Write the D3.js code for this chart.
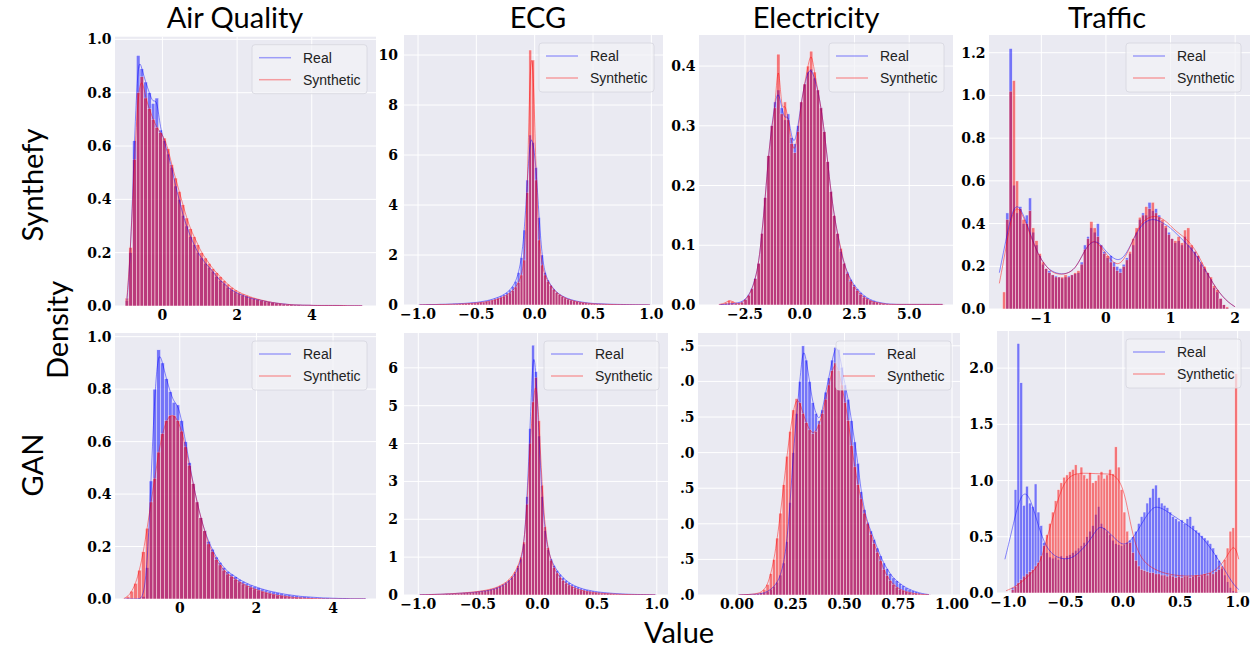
<!DOCTYPE html>
<html>
<head>
<meta charset="utf-8">
<script src="https://cdn.jsdelivr.net/npm/d3@7"></script>
<style>
  body { margin: 0; background: #fff; }
  svg { display: block; }
</style>
</head>
<body>
<svg id="chart" width="1260" height="651"></svg>
<script>
// ---- data: histogram densities, one value per bin (bins start at *Start, width *Width) ----

const datasets = ['Air Quality', 'ECG', 'Electricity', 'Traffic'];
const models = ['Synthefy', 'GAN'];
const seriesNames = ['Real', 'Synthetic'];

// Air Quality / Synthefy
const aqSynthefyStart = -1.0, aqSynthefyWidth = 0.1;
const aqSynthefyReal = [0.02,0.2,0.62,0.94,0.89,0.84,0.80,0.76,0.78,0.66,
  0.62,0.57,0.52,0.45,0.40,0.34,0.30,0.26,0.23,0.20,
  0.18,0.16,0.145,0.13,0.11,0.095,0.085,0.07,0.06,0.052,
  0.045,0.04,0.035,0.03,0.027,0.024,0.021,0.018,0.015,0.013,
  0.011,0.009,0.008,0.006,0.005,0.004,0.004,0.003,0.003,0.003,
  0.002,0.002,0.002,0.002,0.002,0.002,0.002,0.002,0.001,0.001,
  0.001,0.001,0.001,0.001];
const aqSynthefySynth = [0.03,0.22,0.55,0.80,0.86,0.78,0.74,0.70,0.67,0.65,
  0.63,0.59,0.53,0.48,0.43,0.38,0.33,0.29,0.26,0.23,
  0.20,0.18,0.16,0.14,0.125,0.11,0.095,0.082,0.07,0.06,
  0.052,0.045,0.04,0.034,0.03,0.026,0.022,0.019,0.016,0.013,
  0.011,0.009,0.007,0.006,0.005,0.004,0.004,0.003,0.003,0.003,
  0.002,0.002,0.002,0.002,0.002,0.002,0.002,0.002,0.002,0.001,
  0.001,0.001,0.001,0.001];

// ECG / Synthefy
const ecgSynthefyStart = -1.0, ecgSynthefyWidth = 0.025;
const ecgSynthefyReal = [0.01,0.01,0.01,0.02,0.02,0.02,0.02,0.03,0.03,0.03,
  0.04,0.04,0.05,0.05,0.06,0.06,0.07,0.08,0.09,0.10,
  0.11,0.13,0.15,0.17,0.20,0.23,0.27,0.31,
  0.36,0.42,0.50,0.60, 0.75,0.95,1.3,1.9, 3.0,5.0,6.8,6.5,
  5.5,3.5,2.0,1.3, 1.0,0.8,0.65,0.52, 0.43,0.36,0.30,0.25,
  0.21,0.18,0.15,0.13,0.11,0.095,0.08,0.07,
  0.06,0.055,0.05,0.045,0.04,0.035,0.03,0.028,0.025,0.022,
  0.02,0.018,0.016,0.014,0.012,0.01,0.01,0.008,0.006,0.005];
const ecgSynthefySynth = [0.005,0.005,0.01,0.01,0.01,0.01,0.015,0.02,0.02,0.02,
  0.025,0.03,0.03,0.035,0.04,0.045,0.05,0.06,0.065,0.075,
  0.085,0.10,0.11,0.13,0.15,0.18,0.21,0.25,
  0.29,0.34,0.40,0.48, 0.58,0.72,0.9,1.2, 1.8,4.5,10.2,9.8,
  5.0,2.6,1.6,1.2, 0.95,0.78,0.62,0.5, 0.41,0.34,0.28,0.23,
  0.19,0.16,0.13,0.11,0.09,0.08,0.065,0.055,
  0.045,0.04,0.035,0.03,0.026,0.022,0.019,0.016,0.014,0.012,
  0.01,0.009,0.008,0.007,0.006,0.005,0.004,0.004,0.003,0.003];

// Electricity / Synthefy
const elecSynthefyStart = -3.75, elecSynthefyWidth = 0.15;
const elecSynthefyReal = [0.0005,0.001,0.001,0.002,0.002,0.003,0.004,0.006,0.01,0.017,
  0.028,0.045,0.07,0.12,0.18,0.25,0.30,0.34,0.36,0.33,
  0.31,0.32,0.28,0.27,0.30,0.34,0.37,0.39,0.395,0.38,
  0.36,0.33,0.29,0.24,0.19,0.15,0.12,0.09,0.07,0.055,
  0.043,0.034,0.027,0.021,0.016,0.012,0.009,0.007,0.005,0.004,
  0.003,0.002,0.0015,0.0015,0.001,0.001,0.001,0.001,0.001,0.001,
  0.001,0.001,0.001,0.001,0.001,0.001,0.001,0.001,0.001];
const elecSynthefySynth = [0.001,0.002,0.004,0.008,0.006,0.003,0.002,0.004,0.009,0.016,
  0.027,0.044,0.07,0.12,0.18,0.25,0.30,0.33,0.42,0.32,
  0.34,0.31,0.27,0.255,0.29,0.34,0.37,0.40,0.425,0.39,
  0.36,0.33,0.29,0.24,0.19,0.15,0.12,0.095,0.07,0.053,
  0.04,0.031,0.024,0.018,0.013,0.01,0.007,0.005,0.004,0.003,
  0.002,0.0015,0.001,0.001,0.001,0.001,0.001,0.001,0.001,0.001,
  0.001,0.001,0.001,0.001,0.001,0.001,0.001,0.001,0.001];

// Traffic / Synthefy
const trafficSynthefyStart = -1.6, trafficSynthefyWidth = 0.05;
const trafficSynthefyReal = [0.0,0.45,1.22,0.58,0.45,0.48,0.40,0.44,0.52,0.36,
  0.30,0.25,0.21,0.19,0.18,0.16,0.155,0.15,0.145,0.15,
  0.155,0.16,0.165,0.17,0.22,0.30,0.34,0.38,0.36,0.40,
  0.30,0.27,0.24,0.25,0.22,0.20,0.19,0.21,0.24,0.26,
  0.30,0.36,0.42,0.45,0.44,0.50,0.46,0.47,0.44,0.40,
  0.38,0.36,0.33,0.31,0.32,0.30,0.34,0.30,0.29,0.27,
  0.25,0.21,0.19,0.17,0.14,0.10,0.08,0.05,0.02,0.005];
const trafficSynthefySynth = [0.08,0.42,1.02,1.07,0.60,0.47,0.42,0.40,0.46,0.38,
  0.32,0.26,0.22,0.19,0.17,0.16,0.15,0.15,0.15,0.16,
  0.15,0.16,0.17,0.18,0.21,0.28,0.33,0.41,0.38,0.34,
  0.30,0.26,0.25,0.22,0.20,0.18,0.17,0.20,0.23,0.27,
  0.33,0.38,0.43,0.44,0.48,0.47,0.50,0.45,0.43,0.42,
  0.39,0.35,0.33,0.32,0.34,0.31,0.37,0.38,0.30,0.27,
  0.25,0.22,0.20,0.17,0.15,0.11,0.09,0.05,0.02,0.01];
const trafficSynthefyKdeReal = [[-1.65,0.17],[-1.55,0.32],[-1.46,0.45],[-1.38,0.49],[-1.3,0.46],[-1.2,0.38],[-1.1,0.29],[-1.0,0.23],[-0.9,0.19],[-0.8,0.17],[-0.65,0.16],[-0.5,0.18],[-0.4,0.23],[-0.3,0.29],[-0.2,0.32],[-0.1,0.31],[0.0,0.27],[0.1,0.24],[0.2,0.225],[0.3,0.25],[0.4,0.31],[0.5,0.37],[0.6,0.41],[0.75,0.425],[0.9,0.40],[1.0,0.38],[1.1,0.35],[1.2,0.32],[1.3,0.29],[1.4,0.25],[1.5,0.2],[1.6,0.15],[1.7,0.1],[1.8,0.06],[1.9,0.03],[2.0,0.01]];
const trafficSynthefyKdeSynth = [[-1.65,0.12],[-1.55,0.28],[-1.46,0.44],[-1.38,0.48],[-1.3,0.45],[-1.2,0.37],[-1.1,0.29],[-1.0,0.23],[-0.9,0.19],[-0.8,0.165],[-0.65,0.16],[-0.5,0.18],[-0.4,0.23],[-0.3,0.29],[-0.2,0.325],[-0.1,0.30],[0.0,0.26],[0.1,0.22],[0.2,0.205],[0.3,0.24],[0.4,0.31],[0.5,0.38],[0.6,0.42],[0.75,0.44],[0.9,0.42],[1.0,0.39],[1.1,0.36],[1.2,0.34],[1.3,0.31],[1.4,0.27],[1.5,0.21],[1.6,0.15],[1.7,0.1],[1.8,0.06],[1.9,0.03],[2.0,0.01]];

// Air Quality / GAN
const aqGanStart = -1.5, aqGanWidth = 0.1;
const aqGanReal = [0,0,0,0,0,0.01,0.12,0.45,0.80,0.95,
  0.90,0.84,0.79,0.75,0.74,0.68,0.60,0.52,0.44,0.37,
  0.31,0.26,0.22,0.19,0.16,0.14,0.12,0.105,0.095,0.085,
  0.075,0.067,0.06,0.053,0.048,0.043,0.038,0.034,0.03,0.027,
  0.024,0.021,0.018,0.016,0.014,0.012,0.01,0.009,0.008,0.007,
  0.006,0.005,0.004,0.004,0.003,0.003,0.002,0.002,0.002,0.001,
  0.001,0.001,0.001,0.001];
const aqGanSynth = [0.003,0.01,0.03,0.06,0.11,0.18,0.27,0.37,0.46,0.56,
  0.63,0.68,0.70,0.70,0.68,0.64,0.58,0.51,0.44,0.37,
  0.31,0.26,0.21,0.18,0.15,0.13,0.11,0.095,0.085,0.075,
  0.065,0.057,0.05,0.044,0.038,0.033,0.028,0.024,0.02,0.017,
  0.014,0.012,0.01,0.008,0.006,0.005,0.004,0.003,0.002,0.002,
  0.001,0.001,0,0,0,0,0,0,0,0,
  0,0,0,0];

// ECG / GAN
const ecgGanStart = -1.0, ecgGanWidth = 0.025;
const ecgGanReal = [0.01,0.01,0.01,0.01,0.015,0.015,0.02,0.02,0.025,0.03,
  0.03,0.035,0.04,0.045,0.05,0.055,0.06,0.065,0.07,0.08,
  0.09,0.10,0.11,0.12,0.14,0.16,0.19,0.22,
  0.26,0.31,0.37,0.45, 0.56,0.72,0.95,1.35, 2.6,4.4,6.6,5.9,
  4.2,2.6,1.7,1.2, 0.95,0.78,0.65,0.55, 0.46,0.39,0.33,0.28,
  0.24,0.21,0.18,0.155,0.135,0.12,0.105,0.09,
  0.08,0.07,0.062,0.055,0.048,0.042,0.037,0.032,0.028,0.024,
  0.021,0.018,0.016,0.014,0.012,0.01,0.009,0.008,0.007,0.006];
const ecgGanSynth = [0.005,0.005,0.008,0.01,0.012,0.015,0.018,0.02,0.025,0.03,
  0.033,0.037,0.042,0.047,0.052,0.058,0.065,0.072,0.08,0.09,
  0.10,0.11,0.125,0.14,0.16,0.18,0.21,0.25,
  0.29,0.34,0.41,0.50, 0.62,0.78,1.0,1.4, 2.4,4.0,5.1,5.75,
  4.6,2.9,1.8,1.25, 0.92,0.72,0.58,0.47, 0.38,0.31,0.26,0.22,
  0.18,0.15,0.13,0.11,0.09,0.08,0.07,0.06,
  0.05,0.045,0.04,0.035,0.03,0.026,0.022,0.019,0.016,0.014,
  0.012,0.01,0.009,0.008,0.007,0.006,0.005,0.004,0.004,0.003];

// Electricity / GAN
const elecGanStart = 0.0, elecGanWidth = 0.015;
const elecGanReal = [0.0,0.003,0.005,0.007,0.01,0.012,0.015,0.02,0.03,0.05,
  0.08,0.12,0.18,0.28,0.45,0.75,1.3,2.0,2.55,3.0,
  3.5,3.3,3.0,2.7,2.55,2.45,2.6,2.85,3.05,3.3,
  3.48,3.45,3.2,2.95,2.75,2.45,2.15,1.85,1.45,1.2,
  1.02,0.9,0.78,0.66,0.55,0.45,0.37,0.3,0.24,0.2,
  0.16,0.13,0.1,0.08,0.06,0.045,0.03,0.02,0.012,0.006];
const elecGanSynth = [0.0,0.003,0.005,0.007,0.01,0.015,0.025,0.04,0.08,0.15,
  0.3,0.5,0.8,1.15,1.55,1.95,2.3,2.6,2.76,2.7,
  2.55,2.42,2.32,2.27,2.3,2.4,2.55,2.75,2.95,3.15,
  3.26,3.15,2.95,2.7,2.45,2.1,1.8,1.55,1.35,1.15,
  1.0,0.85,0.72,0.6,0.48,0.36,0.27,0.2,0.15,0.11,
  0.08,0.06,0.045,0.035,0.025,0.018,0.012,0.008,0.005,0.003];

// Traffic / GAN
const trafficGanStart = -1.0, trafficGanWidth = 0.025;
const trafficGanReal = [0.0,0.05,0.92,2.22,1.87,0.78,0.95,0.80,0.77,0.97,
  0.72,0.6,0.45,0.36,0.32,0.31,0.32,0.30,0.33,0.31,
  0.33,0.34,0.36,0.38,0.40,0.42,0.45,0.50,0.55,0.60,
  0.70,0.77,0.62,0.58,0.55,0.52,0.47,0.44,0.43,0.42,
  0.43,0.45,0.47,0.50,0.55,0.62,0.68,0.72,0.80,0.85,
  0.93,0.96,0.85,0.80,0.78,0.76,0.72,0.68,0.66,0.64,
  0.65,0.62,0.66,0.68,0.60,0.56,0.54,0.51,0.49,0.47,
  0.44,0.40,0.34,0.29,0.22,0.16,0.10,0.05,0.02,0.01];
const trafficGanSynth = [0.0,0.03,0.06,0.09,0.12,0.15,0.17,0.19,0.21,0.24,
  0.27,0.33,0.42,0.52,0.62,0.72,0.82,0.92,0.98,1.03,
  1.05,1.08,1.10,1.14,1.06,1.12,1.05,1.02,1.07,0.98,
  1.0,1.05,1.08,1.02,1.05,1.1,1.06,1.30,1.12,0.92,
  0.72,0.55,0.45,0.36,0.29,0.24,0.21,0.2,0.19,0.18,
  0.18,0.17,0.17,0.16,0.16,0.15,0.16,0.15,0.14,0.15,
  0.14,0.15,0.15,0.14,0.15,0.16,0.15,0.16,0.17,0.16,
  0.18,0.17,0.19,0.21,0.24,0.30,0.40,0.55,0.58,1.95];
const trafficGanKdeReal = [[-1.03,0.3],[-0.97,0.55],[-0.91,0.82],[-0.855,0.91],[-0.8,0.82],[-0.74,0.6],[-0.67,0.4],[-0.59,0.32],[-0.51,0.3],[-0.45,0.31],[-0.39,0.35],[-0.3,0.45],[-0.24,0.55],[-0.2,0.6],[-0.13,0.55],[-0.04,0.45],[0.02,0.42],[0.1,0.5],[0.18,0.65],[0.25,0.75],[0.29,0.77],[0.35,0.75],[0.42,0.7],[0.54,0.62],[0.62,0.56],[0.69,0.5],[0.8,0.35],[0.89,0.2],[0.96,0.08],[1.01,0.03]];
const trafficGanKdeSynth = [[-1.02,0.02],[-0.95,0.05],[-0.88,0.1],[-0.77,0.2],[-0.71,0.3],[-0.66,0.5],[-0.59,0.75],[-0.53,0.95],[-0.46,1.05],[-0.36,1.07],[-0.24,1.06],[-0.13,1.06],[-0.07,1.05],[0.0,0.95],[0.05,0.7],[0.1,0.45],[0.16,0.3],[0.25,0.22],[0.37,0.17],[0.51,0.15],[0.63,0.15],[0.77,0.17],[0.86,0.25],[0.92,0.35],[0.96,0.42],[0.99,0.38],[1.01,0.3]];

// tick values per panel
const aqXTicks = [0, 2, 4];
const ecgXTicks = [-1, -0.5, 0, 0.5, 1];
const elecSynthefyXTicks = [-2.5, 0, 2.5, 5];
const trafficSynthefyXTicks = [-1, 0, 1, 2];
const elecGanXTicks = [0, 0.25, 0.5, 0.75, 1];
const trafficGanXTicks = [-1, -0.5, 0, 0.5, 1];
const aqYTicks = [0, 0.2, 0.4, 0.6, 0.8, 1.0];
const ecgSynthefyYTicks = [0, 2, 4, 6, 8, 10];
const elecSynthefyYTicks = [0, 0.1, 0.2, 0.3, 0.4];
const trafficSynthefyYTicks = [0, 0.2, 0.4, 0.6, 0.8, 1.0, 1.2];
const ecgGanYTicks = [0, 1, 2, 3, 4, 5, 6];
const elecGanYTicks = [0, 0.5, 1, 1.5, 2, 2.5, 3, 3.5];
const trafficGanYTicks = [0, 0.5, 1, 1.5, 2];

// ---- layout ----
const f1 = d3.format('.1f'), f2 = d3.format('.2f'), fd = d3.format('d');
const panels = [
  { real: aqSynthefyReal, synth: aqSynthefySynth, start: aqSynthefyStart, w: aqSynthefyWidth,
    box: [115, 36.7, 376, 306], xd: [-1.27, 5.72], ymax: 1.01, xt: aqXTicks, yt: aqYTicks, xf: fd, yf: f1 },
  { real: ecgSynthefyReal, synth: ecgSynthefySynth, start: ecgSynthefyStart, w: ecgSynthefyWidth,
    box: [404, 35, 663, 305], xd: [-1.12, 1.1], ymax: 10.8, xt: ecgXTicks, yt: ecgSynthefyYTicks, xf: f1, yf: fd, ygap: 6 },
  { real: elecSynthefyReal, synth: elecSynthefySynth, start: elecSynthefyStart, w: elecSynthefyWidth,
    box: [699, 35, 953, 305], xd: [-4.6, 7.0], ymax: 0.452, xt: elecSynthefyXTicks, yt: elecSynthefyYTicks, xf: f1, yf: f1 },
  { real: trafficSynthefyReal, synth: trafficSynthefySynth, start: trafficSynthefyStart, w: trafficSynthefyWidth,
    kdeReal: trafficSynthefyKdeReal, kdeSynth: trafficSynthefyKdeSynth,
    box: [989, 35, 1250, 309], xd: [-1.81, 2.23], ymax: 1.283, xt: trafficSynthefyXTicks, yt: trafficSynthefyYTicks, xf: fd, yf: f1 },
  { real: aqGanReal, synth: aqGanSynth, start: aqGanStart, w: aqGanWidth,
    box: [115, 333, 376, 599], xd: [-1.69, 5.12], ymax: 1.014, xt: aqXTicks, yt: aqYTicks, xf: fd, yf: f1 },
  { real: ecgGanReal, synth: ecgGanSynth, start: ecgGanStart, w: ecgGanWidth,
    box: [404, 333, 668, 595], xd: [-1.12, 1.094], ymax: 6.92, xt: ecgXTicks, yt: ecgGanYTicks, xf: f1, yf: fd, ygap: 6 },
  { real: elecGanReal, synth: elecGanSynth, start: elecGanStart, w: elecGanWidth,
    box: [698, 333, 960, 595], xd: [-0.181, 1.037], ymax: 3.68, xt: elecGanXTicks, yt: elecGanYTicks, xf: f2,
    yf: d => f1(d).slice(1) },
  { real: trafficGanReal, synth: trafficGanSynth, start: trafficGanStart, w: trafficGanWidth,
    kdeReal: trafficGanKdeReal, kdeSynth: trafficGanKdeSynth,
    box: [997, 331, 1250, 593], xd: [-1.099, 1.108], ymax: 2.33, xt: trafficGanXTicks, yt: trafficGanYTicks, xf: f1, yf: f1 }
];

const BG = '#EAEAF2';
const BLUE = '#0000ff', RED = '#ff0000';
const tickFont = "'DejaVu Serif', serif";
const labelFont = "Lato, 'Open Sans', sans-serif";
const legendFont = "'Liberation Sans', Arial, sans-serif";

const svg = d3.select('#chart');

panels.forEach((p, idx) => {
  const [l, t, r, b] = p.box;
  const x = d3.scaleLinear().domain(p.xd).range([l, r]);
  const y = d3.scaleLinear().domain([0, p.ymax]).range([b, t]);
  const g = svg.append('g').attr('class', 'panel');

  const clipId = 'clip' + idx;
  g.append('clipPath').attr('id', clipId)
    .append('rect').attr('x', l).attr('y', t).attr('width', r - l).attr('height', b - t);

  g.append('rect').attr('x', l).attr('y', t).attr('width', r - l).attr('height', b - t).attr('fill', BG);

  // grid
  g.append('g').selectAll('line').data(p.xt).join('line')
    .attr('x1', d => x(d)).attr('x2', d => x(d)).attr('y1', t).attr('y2', b)
    .attr('stroke', '#fff').attr('stroke-width', 1);
  g.append('g').selectAll('line').data(p.yt).join('line')
    .attr('x1', l).attr('x2', r).attr('y1', d => y(d)).attr('y2', d => y(d))
    .attr('stroke', '#fff').attr('stroke-width', 1);

  const plot = g.append('g').attr('clip-path', `url(#${clipId})`);

  // histograms: real first, synthetic on top
  [[p.real, BLUE], [p.synth, RED]].forEach(([vals, col]) => {
    plot.append('g').selectAll('rect').data(vals).join('rect')
      .attr('x', (d, i) => x(p.start + i * p.w))
      .attr('width', (d, i) => x(p.start + (i + 1) * p.w) - x(p.start + i * p.w))
      .attr('y', d => y(d))
      .attr('height', d => y(0) - y(d))
      .attr('fill', col)
      .attr('stroke', '#fff')
      .attr('stroke-width', 0.5)
      .attr('opacity', 0.5);
  });

  // density curves
  const line = d3.line().x(d => x(d[0])).y(d => y(d[1])).curve(d3.curveBasis);
  const kdeReal = p.kdeReal || p.real.map((v, i) => [p.start + (i + 0.5) * p.w, v]);
  const kdeSynth = p.kdeSynth || p.synth.map((v, i) => [p.start + (i + 0.5) * p.w, v]);
  [[kdeReal, BLUE], [kdeSynth, RED]].forEach(([pts, col]) => {
    plot.append('path').datum(pts).attr('d', line)
      .attr('fill', 'none').attr('stroke', col).attr('stroke-width', 1).attr('stroke-opacity', 0.45);
  });

  // tick labels
  g.append('g').selectAll('text').data(p.xt).join('text')
    .attr('x', d => x(d)).attr('y', b + 14)
    .attr('text-anchor', 'middle')
    .attr('font-family', tickFont).attr('font-weight', 'bold').attr('font-size', 14)
    .text(p.xf);
  g.append('g').selectAll('text').data(p.yt).join('text')
    .attr('x', l - (p.ygap || 3.5)).attr('y', d => y(d))
    .attr('dy', '0.36em')
    .attr('text-anchor', 'end')
    .attr('font-family', tickFont).attr('font-weight', 'bold').attr('font-size', 14)
    .text(p.yf);

  // legend
  const lw = 115, lh = 49;
  const lx = r - 9 - lw, ly = t + 8;
  const lg = g.append('g').attr('transform', `translate(${lx},${ly})`);
  lg.append('rect').attr('width', lw).attr('height', lh).attr('rx', 3)
    .attr('fill', '#f2f2f7').attr('fill-opacity', 0.7)
    .attr('stroke', '#d6d6de').attr('stroke-width', 0.8);
  seriesNames.forEach((name, i) => {
    const yy = 13 + i * 22;
    lg.append('line').attr('x1', 7).attr('x2', 39).attr('y1', yy).attr('y2', yy)
      .attr('stroke', i === 0 ? BLUE : RED).attr('stroke-opacity', 0.35).attr('stroke-width', 1.5);
    lg.append('text').attr('x', 51).attr('y', yy).attr('dy', '0.35em')
      .attr('font-family', legendFont).attr('font-size', 14).attr('fill', '#222')
      .text(name);
  });
});

// column titles
const titleX = [235, 538, 816, 1107];
svg.append('g').selectAll('text').data(datasets).join('text')
  .attr('x', (d, i) => titleX[i]).attr('y', 28)
  .attr('text-anchor', 'middle')
  .attr('font-family', labelFont).attr('font-size', 29)
  .text(d => d);

// row labels
const rowY = [185, 465];
svg.append('g').selectAll('text').data(models).join('text')
  .attr('transform', (d, i) => `translate(33,${rowY[i]}) rotate(-90)`)
  .attr('text-anchor', 'middle').attr('dy', '0.35em')
  .attr('font-family', labelFont).attr('font-size', 29)
  .text(d => d);

svg.append('text')
  .attr('transform', 'translate(58,330) rotate(-90)')
  .attr('text-anchor', 'middle').attr('dy', '0.35em')
  .attr('font-family', labelFont).attr('font-size', 29)
  .text('Density');

svg.append('text')
  .attr('x', 679).attr('y', 643)
  .attr('text-anchor', 'middle')
  .attr('font-family', labelFont).attr('font-size', 29)
  .text('Value');
</script>
</body>
</html>
